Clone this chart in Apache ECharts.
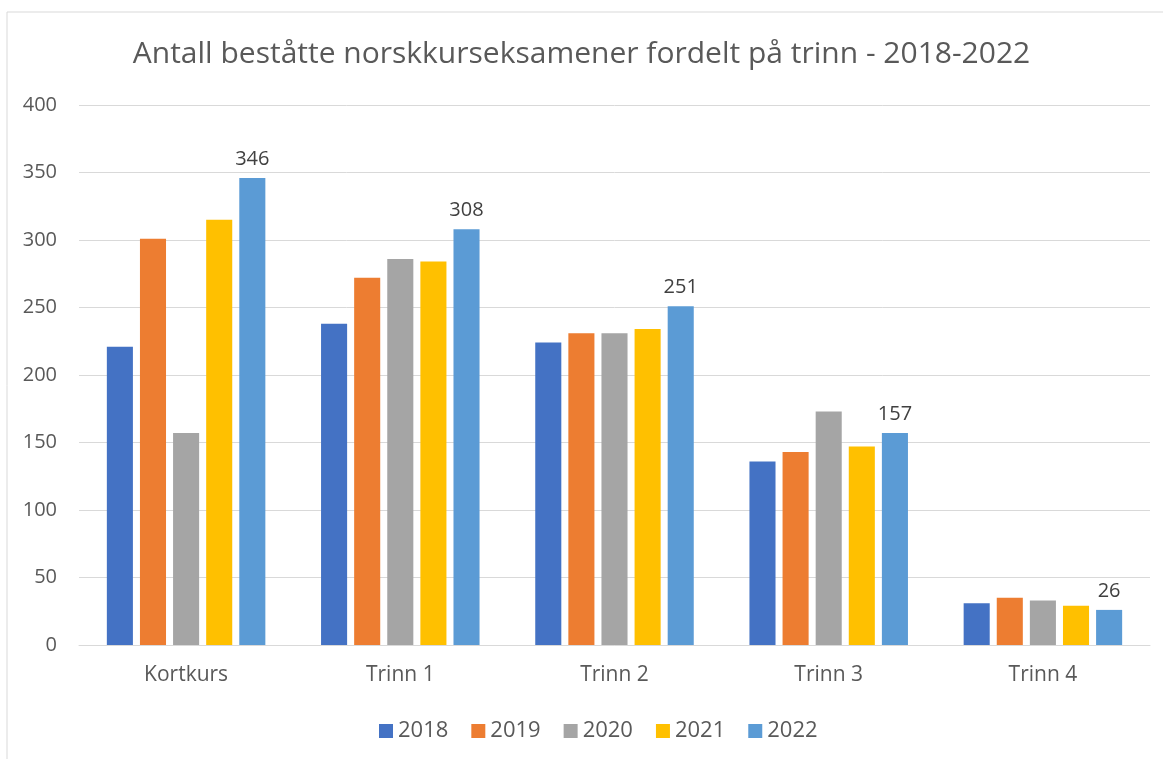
<!DOCTYPE html>
<html>
<head>
<meta charset="utf-8">
<script src="https://cdn.jsdelivr.net/npm/echarts@6/dist/echarts.min.js"></script>
<style>
html,body{margin:0;padding:0;background:#fff;}
#main{width:1163px;height:759px;}
</style>
</head>
<body>
<div id="main"></div>
<script>
var categories = ['Kortkurs', 'Trinn 1', 'Trinn 2', 'Trinn 3', 'Trinn 4'];
var years = ['2018', '2019', '2020', '2021', '2022'];
var s2018 = [221, 238, 224, 136, 31];
var s2019 = [301, 272, 231, 143, 35];
var s2020 = [157, 286, 231, 173, 33];
var s2021 = [315, 284, 234, 147, 29];
var s2022 = [346, 308, 251, 157, 26];
var yTicks = [0, 50, 100, 150, 200, 250, 300, 350, 400];

var seriesDatas = [s2018, s2019, s2020, s2021, s2022];
var colorData = ['#4472c4', '#ed7d31', '#a5a5a5', '#ffc000', '#5b9bd5'];
var fontName = '"Open Sans", "Noto Sans", sans-serif';

var seriesObj = [];
for (var i = 0; i < years.length; i++) {
    seriesObj.push({
        name: years[i],
        type: 'bar',
        data: seriesDatas[i],
        barGap: '27%',
        barCategoryGap: '26%',
        label: {
            show: i == years.length - 1,
            position: 'top',
            distance: 9,
            color: '#404040',
            fontSize: 20,
            fontFamily: fontName
        }
    });
}

var chart = echarts.init(document.getElementById('main'));
var option = {
    color: colorData,
    animation: false,
    title: {
        text: 'Antall beståtte norskkurseksamener fordelt på trinn - 2018-2022',
        left: 'center',
        top: 34,
        textStyle: {
            color: '#595959',
            fontSize: 30,
            fontWeight: 'normal',
            fontFamily: fontName
        }
    },
    legend: {
        data: years,
        top: 715,
        left: 374,
        icon: 'rect',
        itemWidth: 14,
        itemHeight: 14,
        itemGap: 23,
        textStyle: {
            color: '#595959',
            fontSize: 22,
            fontFamily: fontName
        }
    },
    grid: {left: 79, right: 13, top: 105, bottom: 114},
    xAxis: {
        type: 'category',
        data: categories,
        axisTick: {show: false},
        axisLine: {lineStyle: {color: '#d9d9d9', width: 1}},
        axisLabel: {
            color: '#595959',
            fontSize: 21,
            margin: 20,
            fontFamily: fontName
        }
    },
    yAxis: {
        type: 'value',
        min: yTicks[0],
        max: yTicks[yTicks.length - 1],
        interval: 50,
        axisLine: {show: false},
        axisTick: {show: false},
        splitLine: {lineStyle: {color: '#d9d9d9', width: 1}},
        axisLabel: {
            color: '#595959',
            fontSize: 20,
            margin: 22,
            fontFamily: fontName
        }
    },
    graphic: [{
        type: 'polyline',
        shape: {points: [[7, 759], [7, 12], [1163, 12]]},
        style: {stroke: '#d9d9d9', lineWidth: 1, fill: null},
        silent: true
    }],
    series: seriesObj
};
chart.setOption(option);
</script>
</body>
</html>
